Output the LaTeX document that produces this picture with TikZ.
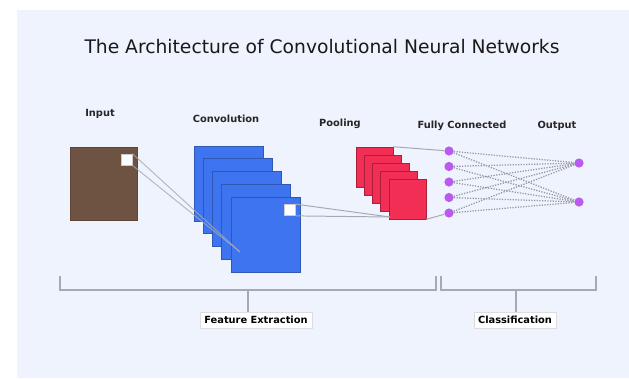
\documentclass[tikz,border=0pt]{standalone}
\usepackage{fontspec}
\setmainfont{DejaVu Sans}
\definecolor{panelbg}{RGB}{239, 243, 253}
\definecolor{inbrown}{RGB}{110, 82, 66}
\definecolor{convblue}{RGB}{62, 116, 240}
\definecolor{poolred}{RGB}{242, 46, 84}
\definecolor{fcpurple}{RGB}{186, 90, 240}
\definecolor{linegray}{RGB}{165, 170, 178}
\usetikzlibrary{positioning}

\begin{document}
\begin{tikzpicture}[x=0.025cm, y=-0.025cm,
  lbl/.style={font=\bfseries\fontsize{7}{8}\selectfont, text=black!85},
  inbox/.style={draw=inbrown!85!black, fill=inbrown, minimum width=1.675cm, minimum height=1.825cm, inner sep=0pt},
  convbox/.style={draw=convblue!75!black, fill=convblue, minimum width=1.725cm, minimum height=1.875cm, inner sep=0pt},
  poolbox/.style={draw=poolred!70!black, fill=poolred, minimum width=0.925cm, minimum height=1cm, inner sep=0pt},
  patch/.style={draw=linegray!60, fill=white, minimum size=0.28cm, inner sep=0pt},
  neuron/.style={circle, fill=fcpurple, minimum size=0.23cm, inner sep=0pt},
  conn/.style={draw=linegray, line width=0.7pt},
  fcline/.style={draw=linegray!90!black, densely dotted, line width=0.9pt},
  brace/.style={draw=linegray, line width=0.9pt},
  tagbox/.style={draw=linegray!40, fill=white, inner sep=3pt, font=\bfseries\fontsize{7}{8}\selectfont}
]
  % Background panel
  \fill[white] (0,0) rectangle (629,378);
  \fill[panelbg] (17,10) rectangle (629,378);

  % Title
  \node[font=\fontsize{13.3}{15}\selectfont, text=black!90] (title) at (322,47) {The Architecture of Convolutional Neural Networks};

  % Layer labels
  \node[lbl] (inlbl) at (100,114) {Input};
  \node[lbl] (convlbl) at (226,119) {Convolution};
  \node[lbl] (poollbl) at (340,124) {Pooling};
  \node[lbl] (fclbl) at (462,126) {Fully Connected};
  \node[lbl] (outlbl) at (557,126) {Output};

  % Input image
  \node[inbox] (input) at (103.5,183.5) {};
  \node[patch] (inpatch) at (126.5,159.5) {};

  % Convolution feature maps
  \foreach \i in {0,...,4}
    \node[convbox] (conv\i) at ({228.5+9.25*\i},{183.5+12.75*\i}) {};
  \node[patch] (convpatch) at (289.5,210) {};

  % Pooling maps
  \foreach \i in {0,...,4}
    \node[poolbox] (pool\i) at ({374.5+8.25*\i},{167+8*\i}) {};

  % Receptive field lines
  \coordinate (convhit) at (240,252);
  \draw[conn, opacity=0.8] (inpatch.north east) -- (convhit);
  \draw[conn, opacity=0.8] (inpatch.south east) -- (convhit);
  \coordinate (poolhit) at (390,217);
  \draw[conn] (convpatch.north east) -- (poolhit);
  \draw[conn] (convpatch.south east) -- (poolhit);

  % Fully connected and output neurons
  \foreach \j/\yy in {1/151, 2/166.5, 3/182, 4/197.5, 5/213}
    \node[neuron] (fc\j) at (449,\yy) {};
  \node[neuron] (out1) at (579,163) {};
  \node[neuron] (out2) at (579,202) {};

  \draw[conn] (pool0.north east) -- (fc1);
  \draw[conn] (pool4.south east) -- (fc5);
  \foreach \a in {1,...,5}
    \foreach \b in {1,2}
      \draw[fcline] (fc\a) -- (out\b);

  % Stage brackets
  \coordinate (featL) at (60,276);
  \coordinate (featR) at (436,276);
  \coordinate (featmid) at (248,290);
  \draw[brace] (featL) |- (featmid) -| (featR);
  \node[tagbox] (featlbl) at (256,320) {Feature Extraction};
  \draw[brace] (featmid) -- (featmid |- featlbl.north);

  \coordinate (clsL) at (441,276);
  \coordinate (clsR) at (596,276);
  \coordinate (clsmid) at (516,290);
  \draw[brace] (clsL) |- (clsmid) -| (clsR);
  \node[tagbox] (clslbl) at (515,320) {Classification};
  \draw[brace] (clsmid) -- (clsmid |- clslbl.north);
\end{tikzpicture}
\end{document}
